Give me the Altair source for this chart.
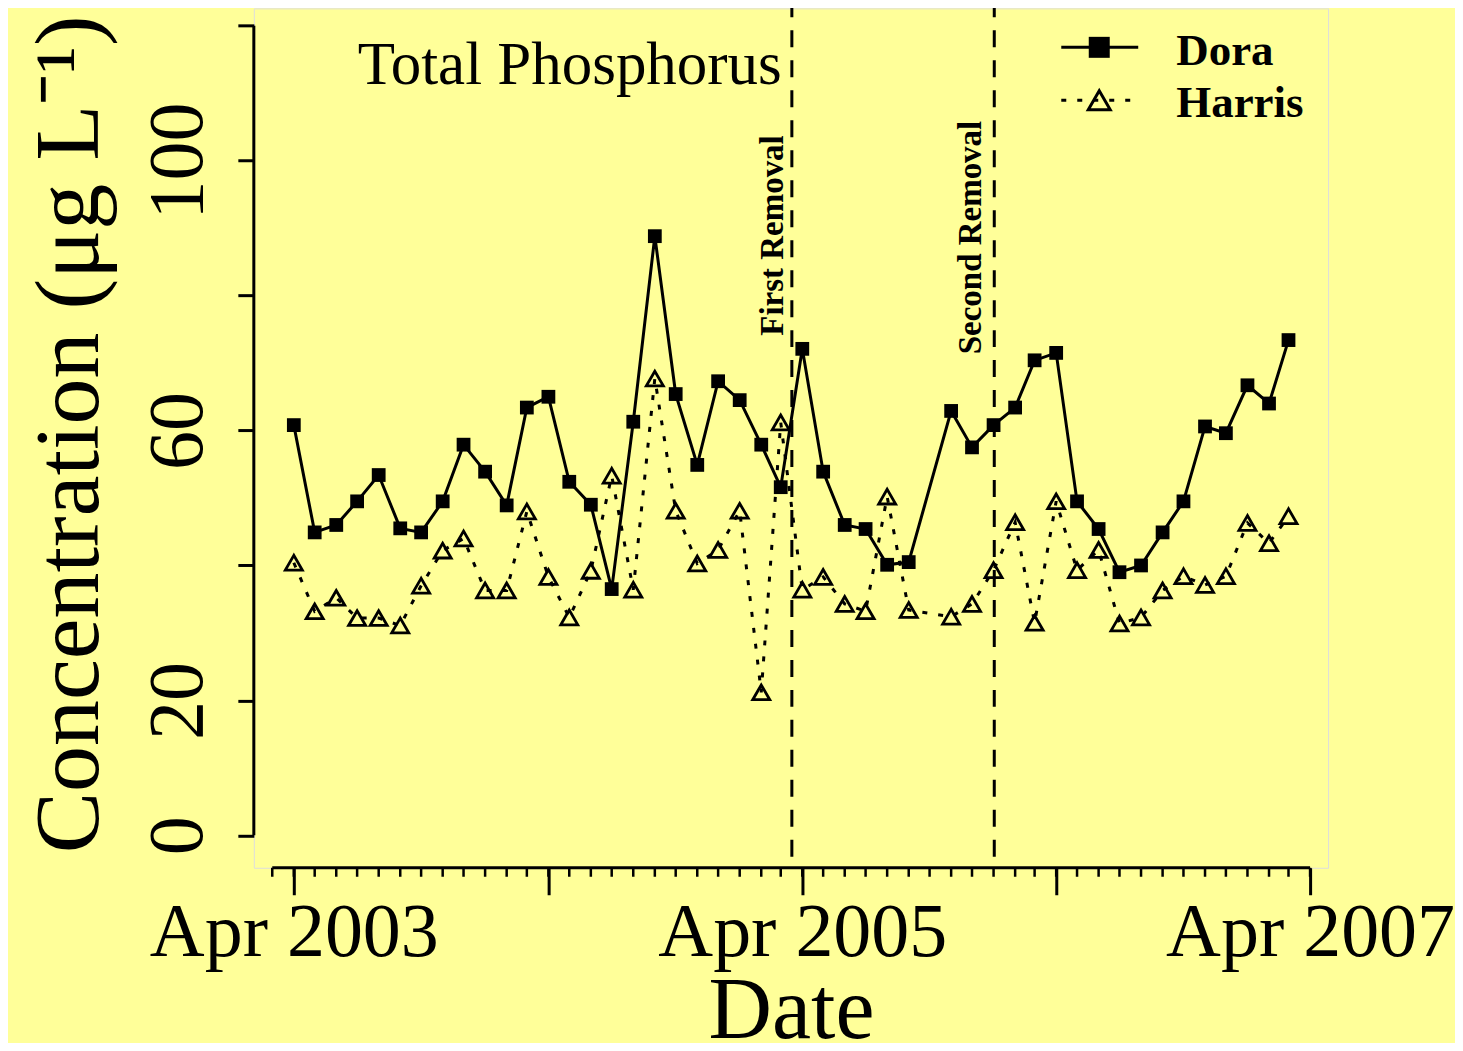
import altair as alt
import pandas as pd

# ---------------- data ----------------
months = [
    "2003-04-01", "2003-05-01", "2003-06-01", "2003-07-01", "2003-08-01", "2003-09-01",
    "2003-10-01", "2003-11-01", "2003-12-01", "2004-01-01", "2004-02-01", "2004-03-01",
    "2004-04-01", "2004-05-01", "2004-06-01", "2004-07-01", "2004-08-01", "2004-09-01",
    "2004-10-01", "2004-11-01", "2004-12-01", "2005-01-01", "2005-02-01", "2005-03-01",
    "2005-04-01", "2005-05-01", "2005-06-01", "2005-07-01", "2005-08-01", "2005-09-01",
    "2005-11-01", "2005-12-01", "2006-01-01", "2006-02-01", "2006-03-01",
    "2006-04-01", "2006-05-01", "2006-06-01", "2006-07-01", "2006-08-01", "2006-09-01",
    "2006-10-01", "2006-11-01", "2006-12-01", "2007-01-01", "2007-02-01", "2007-03-01",
]
dora = [
    60.8, 44.9, 46.0, 49.5, 53.4, 45.5, 44.9, 49.5, 57.9, 53.9, 48.9, 63.4,
    65.0, 52.4, 49.0, 36.5, 61.3, 88.8, 65.4, 54.9, 67.3, 64.5, 57.9, 51.6,
    72.1, 53.9, 46.0, 45.4, 40.1, 40.5, 62.9, 57.5, 60.8, 63.4, 70.4,
    71.5, 49.5, 45.4, 39.0, 40.0, 44.9, 49.5, 60.6, 59.6, 66.7, 64.0, 73.4,
]
harris = [
    40.4, 33.2, 35.2, 32.2, 32.2, 31.1, 37.0, 42.2, 44.0, 36.3, 36.3, 48.0,
    38.3, 32.3, 39.2, 53.3, 36.4, 67.7, 48.1, 40.3, 42.3, 48.1, 21.2, 61.2,
    36.4, 38.3, 34.3, 33.2, 50.2, 33.4, 32.4, 34.3, 39.3, 46.4, 31.5,
    49.5, 39.3, 42.3, 31.4, 32.3, 36.3, 38.4, 37.1, 38.4, 46.3, 43.3, 47.3,
]
removal_dates = ["2005-03-17", "2006-01-02"]
removal_labels = ["First Removal", "Second Removal"]
y_ticks = [0, 20, 40, 60, 80, 100, 120]
major_years = [2003, 2004, 2005, 2006, 2007]
minor_ticks = [d.strftime("%Y-%m-%d") for d in pd.date_range("2003-03-01", "2007-04-01", freq="MS")]
series_names = ["Dora", "Harris"]
panel_title = "Total Phosphorus"

# ---------------- styling ----------------
BG = "#FFFF99"
FONT = "Liberation Serif"
W, H = 1075, 860

dora_df = pd.DataFrame({"date": months, "value": dora})
harris_df = pd.DataFrame({"date": months, "value": harris})
rem_df = pd.DataFrame({"date": removal_dates, "label": removal_labels})
minor_df = pd.DataFrame({"date": minor_ticks})

xscale = alt.Scale(
    type="utc",
    nice=False,
    domain=[
        alt.DateTime(year=2003, month=2, date=2, hours=12, utc=True),
        alt.DateTime(year=2007, month=4, date=26, hours=22, utc=True),
    ],
)
yscale = alt.Scale(domain=[-4.8, 122.56], nice=False, zero=False)

xaxis = alt.Axis(
    values=[alt.DateTime(year=y, month=4, date=1, utc=True) for y in major_years],
    labelExpr="utcyear(datum.value) % 2 == 1 ? utcFormat(datum.value, '%b %Y') : ''",
    domain=False, grid=False,
    tickSize=27, tickWidth=3, tickColor="black",
    labelFont=FONT, labelFontSize=76, labelColor="black", labelLimit=0,
    labelAlign="center", labelBaseline="alphabetic", labelPadding=61,
    labelOverlap=False, labelFlush=False, labelBound=False,
    title="Date", titleFont=FONT, titleFontSize=88, titleFontWeight="normal",
    titleColor="black", titleAlign="center", titleBaseline="alphabetic",
    titleX=W / 2, titleY=170,
)
yaxis = alt.Axis(
    values=y_ticks,
    labelExpr="datum.value == 40 || datum.value == 80 || datum.value == 120 ? '' : datum.label",
    domain=False, grid=False,
    tickSize=16, tickWidth=3, tickColor="black",
    labelFont=FONT, labelFontSize=78, labelColor="black", labelLimit=0,
    labelAngle=270, labelAlign="center", labelBaseline="alphabetic", labelPadding=36,
    labelOverlap=False, labelFlush=False, labelBound=False,
    title="Concentration (\u03bcg L\u207b\u00b9)", titleFont=FONT, titleFontSize=92,
    titleFontWeight="normal", titleColor="black", titleLimit=0,
    titleAngle=270, titleAlign="left", titleBaseline="alphabetic",
    titleX=-156, titleY=845,
)


def X(field):
    return alt.X(field, type="temporal", scale=xscale, axis=xaxis)


def Y(field):
    return alt.Y(field, type="quantitative", scale=yscale, axis=yaxis)


# axis lines (R style, only over the tick range)
y_line = alt.Chart(pd.DataFrame({"a": [0]})).mark_rule(color="black", strokeWidth=3).encode(
    x=alt.value(0), y=alt.datum(0), y2=alt.datum(120)
)
x_line = alt.Chart(pd.DataFrame({"a": [0]})).mark_rule(color="black", strokeWidth=3).encode(
    y=alt.value(H),
    x=alt.datum(alt.DateTime(year=2003, month=3, date=1, utc=True)),
    x2=alt.datum(alt.DateTime(year=2007, month=4, date=1, utc=True)),
)
minor = alt.Chart(minor_df).mark_rule(color="black", strokeWidth=2.5).encode(
    x=X("date"), y=alt.value(H), y2=alt.value(H + 9)
)

rem_lines = alt.Chart(rem_df).mark_rule(color="black", strokeWidth=3, strokeDash=[17, 13]).encode(
    x=X("date"), y=alt.value(-8), y2=alt.value(H)
)
rem_text1 = alt.Chart(rem_df.iloc[[0]]).mark_text(
    font=FONT, fontSize=33, fontWeight="bold", color="black",
    angle=270, align="center", baseline="alphabetic", dy=-9,
).encode(x=X("date"), y=alt.datum(88.9), text="label:N")
rem_text2 = alt.Chart(rem_df.iloc[[1]]).mark_text(
    font=FONT, fontSize=33, fontWeight="bold", color="black",
    angle=270, align="center", baseline="alphabetic", dy=-13,
).encode(x=X("date"), y=alt.datum(88.6), text="label:N")

dora_line = alt.Chart(dora_df).mark_line(color="black", strokeWidth=3).encode(
    x=X("date"), y=Y("value")
)
harris_line = alt.Chart(harris_df).mark_line(color="black", strokeWidth=3, strokeDash=[5, 11]).encode(
    x=X("date"), y=Y("value")
)
dora_pts = alt.Chart(dora_df).mark_point(
    shape="square", filled=True, size=190, color="black", opacity=1
).encode(x=X("date"), y=Y("value"))
harris_pts = alt.Chart(harris_df).mark_point(
    shape="triangle-up", filled=False, size=290, color="black", strokeWidth=2.8, opacity=1
).encode(x=X("date"), y=Y("value"))

# title inside the panel
title_txt = alt.Chart(pd.DataFrame({"t": [panel_title]})).mark_text(
    font=FONT, fontSize=61, color="black", align="left", baseline="alphabetic"
).encode(x=alt.value(104), y=alt.value(76), text="t:N")

# custom legend
one = pd.DataFrame({"a": [0]})
leg_dora_line = alt.Chart(one).mark_rule(color="black", strokeWidth=3).encode(
    x=alt.value(808), x2=alt.value(885), y=alt.value(39)
)
leg_dora_pt = alt.Chart(one).mark_point(
    shape="square", filled=True, size=441, color="black", opacity=1
).encode(x=alt.value(846), y=alt.value(39))
leg_harris_line = alt.Chart(one).mark_rule(color="black", strokeWidth=3, strokeDash=[5, 11]).encode(
    x=alt.value(808), x2=alt.value(885), y=alt.value(92)
)
leg_harris_pt = alt.Chart(one).mark_point(
    shape="triangle-up", filled=False, size=484, color="black", strokeWidth=3, opacity=1
).encode(x=alt.value(846), y=alt.value(92))
leg_txt_dora = alt.Chart(pd.DataFrame({"t": [series_names[0]]})).mark_text(
    font=FONT, fontSize=45, fontWeight="bold", color="black", align="left", baseline="alphabetic"
).encode(x=alt.value(923), y=alt.value(57), text="t:N")
leg_txt_harris = alt.Chart(pd.DataFrame({"t": [series_names[1]]})).mark_text(
    font=FONT, fontSize=45, fontWeight="bold", color="black", align="left", baseline="alphabetic"
).encode(x=alt.value(923), y=alt.value(109), text="t:N")

chart = alt.layer(
    dora_line, harris_line, dora_pts, harris_pts,
    rem_lines, rem_text1, rem_text2,
    y_line, x_line, minor,
    title_txt,
    leg_dora_line, leg_harris_line, leg_dora_pt, leg_harris_pt, leg_txt_dora, leg_txt_harris,
).properties(
    width=W, height=H,
    padding={"left": 246, "top": 0, "right": 127, "bottom": 175},
    autosize=alt.AutoSizeParams(type="none"),
    background=BG,
).configure_view(stroke=BG, strokeWidth=0).configure(font=FONT)

chart.save("out.html", embed_options={"renderer": "svg", "actions": False})
